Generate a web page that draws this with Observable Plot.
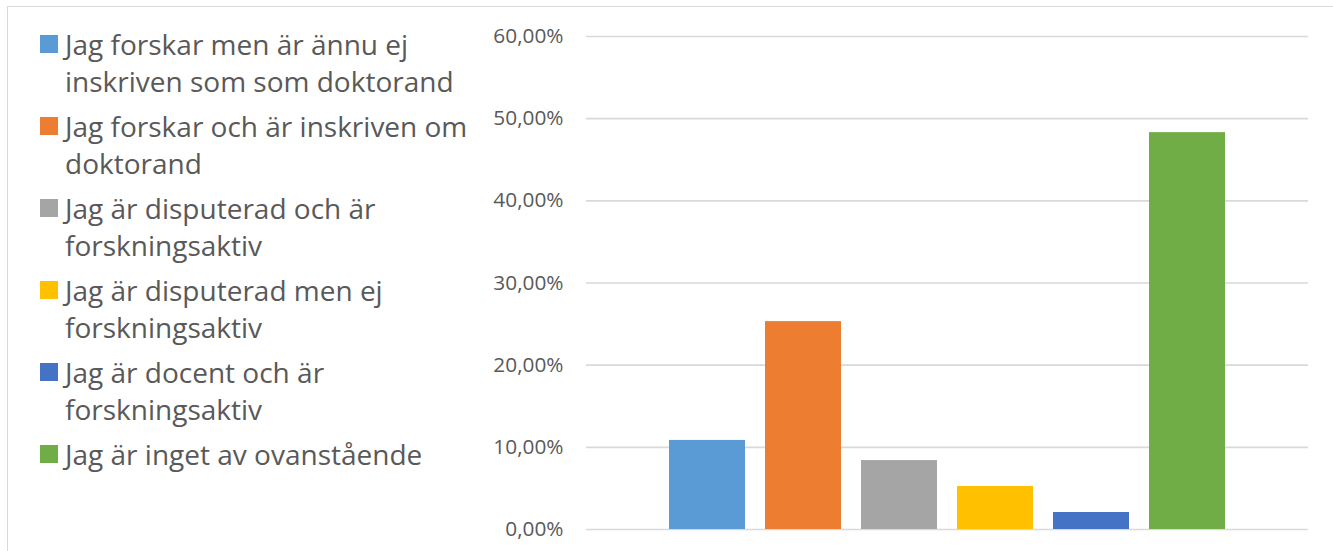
<!DOCTYPE html>
<html>
<head>
<meta charset="utf-8">
<script src="https://cdn.jsdelivr.net/npm/d3@7"></script>
<script src="https://cdn.jsdelivr.net/npm/@observablehq/plot@0.6"></script>
<style>
  html, body { margin: 0; padding: 0; background: #fff; overflow: hidden; width: 1333px; height: 551px; }
  #wrap { position: relative; width: 1333px; height: 551px; }
  #frame { position: absolute; left: 7px; top: 6px; width: 1400px; height: 600px; border: 1px solid #d9d9d9; box-sizing: border-box; }
  #chart { position: absolute; left: 0; top: 0; }
  #legend { position: absolute; left: 40px; top: 26px; font-family: "Open Sans", sans-serif; font-size: 28px; line-height: 37px; color: #595959; }
  .item { display: flex; align-items: flex-start; margin-bottom: 8px; }
  .sw { width: 18px; height: 18px; margin-top: 9px; margin-right: 7px; flex: none; }
  .lab { width: 420px; }
</style>
</head>
<body>
<div id="wrap">
  <div id="frame"></div>
  <div id="chart"></div>
  <div id="legend"></div>
</div>
<script>
const categories = [
  "Jag forskar men är ännu ej inskriven som som doktorand",
  "Jag forskar och är inskriven om doktorand",
  "Jag är disputerad och är forskningsaktiv",
  "Jag är disputerad men ej forskningsaktiv",
  "Jag är docent och är forskningsaktiv",
  "Jag är inget av ovanstående"
];
const values = [0.1084, 0.2530, 0.0839, 0.0523, 0.0207, 0.4830];
const colors = ["#5B9BD5", "#ED7D31", "#A5A5A5", "#FFC000", "#4472C4", "#70AD47"];
const yTicks = [0, 0.1, 0.2, 0.3, 0.4, 0.5, 0.6];

const data = categories.map((c, i) => ({cat: c, value: values[i], color: colors[i]}));
const fmt = d => (d * 100).toFixed(2).replace(".", ",") + "%";

const chart = Plot.plot({
  width: 1333,
  height: 551,
  marginLeft: 586,
  marginRight: 25,
  marginTop: 36,
  marginBottom: 22,
  style: {fontFamily: "'Open Sans', sans-serif", fontSize: "20.8px", color: "#595959", background: "transparent"},
  x: {domain: categories, range: [659, 1235], paddingInner: 0.208, paddingOuter: 0.104, axis: null},
  y: {domain: [0, 0.6], axis: null},
  color: {type: "identity"},
  marks: [
    Plot.ruleY(yTicks, {stroke: "#d9d9d9", strokeWidth: 1.6}),
    Plot.barY(data, {x: "cat", y: "value", fill: "color"}),
    Plot.axisY(yTicks, {tickSize: 0, tickPadding: 23, tickFormat: fmt, label: null, fill: "#595959"})
  ]
});
document.getElementById("chart").appendChild(chart);

const legend = document.getElementById("legend");
data.forEach(d => {
  const item = document.createElement("div");
  item.className = "item";
  const sw = document.createElement("div");
  sw.className = "sw";
  sw.style.background = d.color;
  const lab = document.createElement("div");
  lab.className = "lab";
  lab.textContent = d.cat;
  item.appendChild(sw);
  item.appendChild(lab);
  legend.appendChild(item);
});
</script>
</body>
</html>
